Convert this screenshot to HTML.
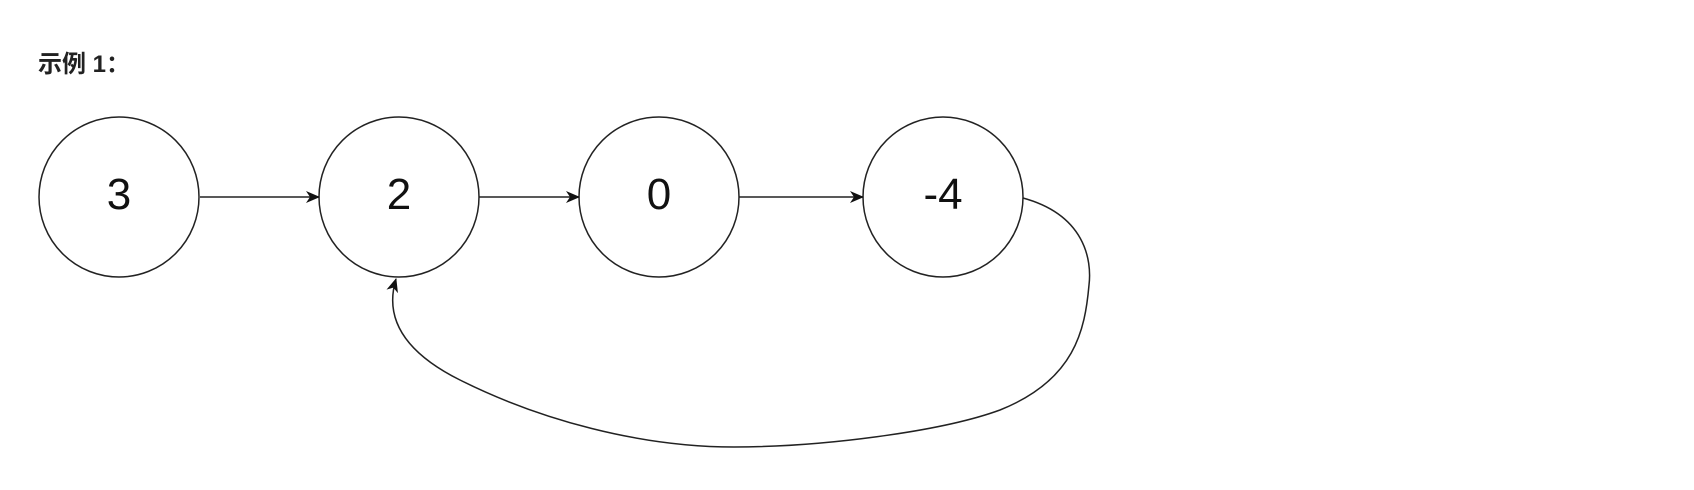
<!DOCTYPE html>
<html><head><meta charset="utf-8"><style>
html,body{margin:0;padding:0;background:#fff;width:1694px;height:490px;overflow:hidden}
</style></head><body>
<svg width="1694" height="490" viewBox="0 0 1694 490" xmlns="http://www.w3.org/2000/svg">
<defs>
<marker id="a" markerWidth="14" markerHeight="12" refX="13" refY="6" orient="auto" markerUnits="userSpaceOnUse">
<path d="M0,0 L14,6 L0,12 L4,6 Z" fill="#111"/>
</marker>
</defs>
<text x="38" y="72" font-family="'Liberation Sans','Noto Sans CJK SC',sans-serif" font-weight="bold" font-size="24" fill="#222">示例 1：</text>
<g fill="#fff" stroke="#222" stroke-width="1.5">
<circle cx="119" cy="197" r="80"/>
<circle cx="399" cy="197" r="80"/>
<circle cx="659" cy="197" r="80"/>
<circle cx="943" cy="197" r="80"/>
</g>
<g font-family="'Liberation Sans',sans-serif" font-size="44" fill="#111" text-anchor="middle">
<text x="119" y="209">3</text>
<text x="399" y="209">2</text>
<text x="659" y="209">0</text>
<text x="943" y="209">-4</text>
</g>
<g stroke="#222" stroke-width="1.5" fill="none">
<line x1="200" y1="197" x2="319" y2="197" marker-end="url(#a)"/>
<line x1="479" y1="197" x2="579" y2="197" marker-end="url(#a)"/>
<line x1="739" y1="197" x2="863" y2="197" marker-end="url(#a)"/>
<path d="M1023,198 C1085,215 1092,260 1089,285 C1085,330 1075,380 1000,410 C940,432 820,447 734,447 C640,447 540,420 460,380 C400,350 385,315 396,279" marker-end="url(#a)"/>
</g>
</svg>
</body></html>
